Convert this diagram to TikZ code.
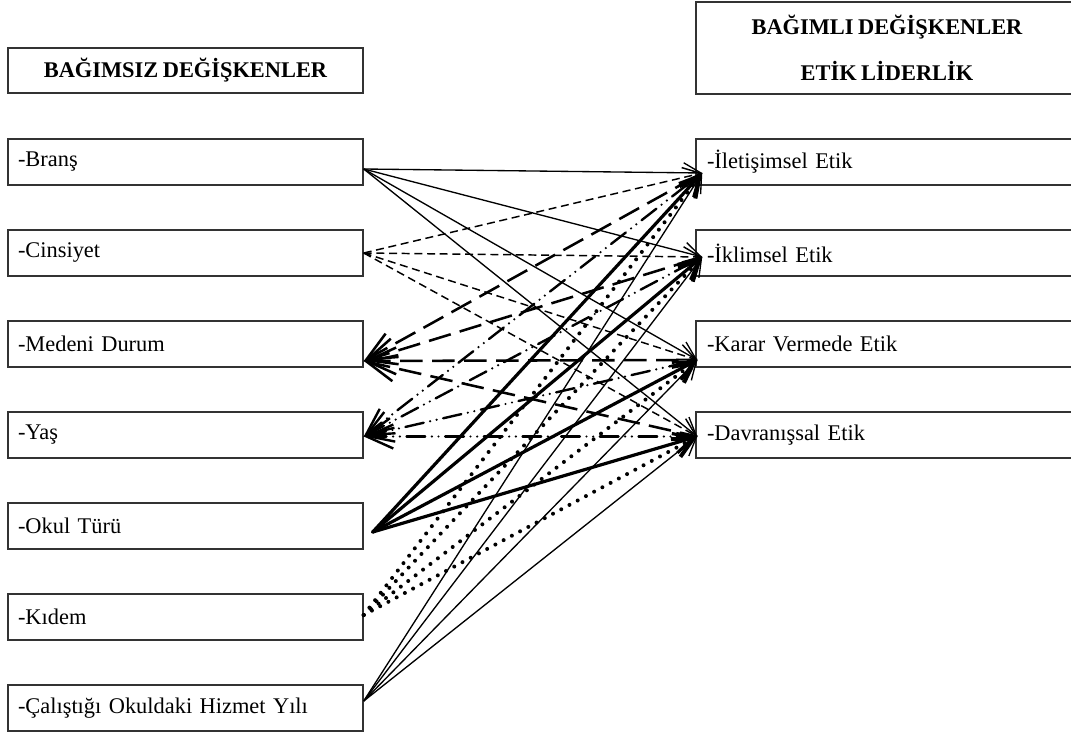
\documentclass[tikz,border=0pt]{standalone}
\usepackage{fontspec}
\setmainfont{Liberation Serif}[WordSpace=0.8]
\usetikzlibrary{positioning,arrows.meta}
\newcommand{\pxu}{0.75pt}

\begin{document}
\begin{tikzpicture}[x=\pxu,y=-\pxu,node distance=91*\pxu,
        font=\fontsize{16.8}{20}\selectfont,
        main node/.style={rectangle,draw=black!80,line width=1.1pt,minimum height=46*\pxu,
            inner xsep=10*\pxu,inner ysep=0pt,text width=335*\pxu,align=left},
        right node/.style={main node,inner xsep=11*\pxu,text width=360*\pxu},
        head node/.style={rectangle,draw=black!80,line width=1.1pt,font=\fontsize{16.8}{20}\selectfont\bfseries,
            minimum width=355*\pxu,minimum height=45*\pxu,inner sep=0pt,align=center},
        thin arrow/.style={line width=1pt,-{Straight Barb[length=13pt,width=15pt]}},
        thick arrow/.style={line width=2.4pt,line cap=round,-{Straight Barb[length=15pt,width=15pt]}},
        short dash/.style={line width=1.1pt,dash pattern=on 6pt off 3.5pt,-{Straight Barb[length=13pt,width=15pt]}},
        long dash/.style={line width=1.9pt,dash pattern=on 17pt off 7pt,{Straight Barb[length=22pt,width=20pt]}-},
        dash dot/.style={line width=1.8pt,line cap=round,dash pattern=on 14pt off 5pt on 0pt off 5pt on 0pt off 5pt,
            {Straight Barb[length=20pt,width=18pt]}-},
        round dots/.style={line width=3pt,line cap=round,dash pattern=on 0pt off 7pt,
            -{Straight Barb[length=15pt,width=15pt]}}]

    \useasboundingbox (0,0) rectangle (1071,735);

    % headers
    \node[head node] (h1) at (185.5,70.5) {BAĞIMSIZ DEĞİŞKENLER};
    \node[head node,minimum width=382*\pxu,minimum height=92*\pxu] (h2) at (887,48)
        {BAĞIMLI DEĞİŞKENLER\\[14.5pt]ETİK LİDERLİK};

    % independent variables
    \node[main node] (1) at (185.5,162) {-Branş};
    \node[main node] (2) [below of=1] {-Cinsiyet};
    \node[main node] (3) [below of=2] {-Medeni Durum};
    \node[main node] (4) [below of=3] {-Yaş};
    \node[main node] (5) [below of=4] {-Okul Türü};
    \node[main node] (6) [below of=5] {-Kıdem};
    \node[main node] (7) [below of=6] {-Çalıştığı Okuldaki Hizmet Yılı};

    % dependent variables
    \node[right node] (r1) at (887,162) {-İletişimsel Etik};
    \node[right node] (r2) [below of=r1] {-İklimsel Etik};
    \node[right node] (r3) [below of=r2] {-Karar Vermede Etik};
    \node[right node] (r4) [below of=r3] {-Davranışsal Etik};

    % line ends
    \coordinate (1p) at ([yshift=-7*\pxu]1.east);
    \coordinate (2p) at (2.east);
    \coordinate (3p) at ([yshift=-17*\pxu]3.east);
    \coordinate (4p) at ([yshift=-1.5*\pxu]4.east);
    \coordinate (5p) at ([xshift=9*\pxu,yshift=-6*\pxu]5.east);
    \coordinate (6p) at ([yshift=2*\pxu]6.east);
    \coordinate (7p) at ([yshift=7*\pxu]7.east);
    \coordinate (r1p) at ([xshift=7*\pxu,yshift=-11*\pxu]r1.west);
    \coordinate (r2p) at ([xshift=7*\pxu,yshift=-4*\pxu]r2.west);
    \coordinate (r3p) at ([xshift=2*\pxu,yshift=-16*\pxu]r3.west);
    \coordinate (r4p) at ([xshift=2*\pxu,yshift=-1.5*\pxu]r4.west);

    \path[thin arrow]
    (1p) edge (r1p) edge (r2p) edge (r3p) edge (r4p);
    \path[short dash]
    (2p) edge (r1p) edge (r2p) edge (r3p) edge (r4p);
    \path[long dash]
    (3p) edge (r1p) edge (r2p) edge (r3p) edge (r4p);
    \path[dash dot]
    (4p) edge (r1p) edge (r2p) edge (r3p) edge (r4p);
    \path[thick arrow]
    (5p) edge (r1p) edge (r2p) edge (r3p) edge (r4p);
    \path[round dots]
    (6p) edge (r1p) edge (r2p) edge (r3p) edge (r4p);
    \path[thin arrow]
    (7p) edge (r1p) edge (r2p) edge (r3p) edge (r4p);

\end{tikzpicture}
\end{document}
